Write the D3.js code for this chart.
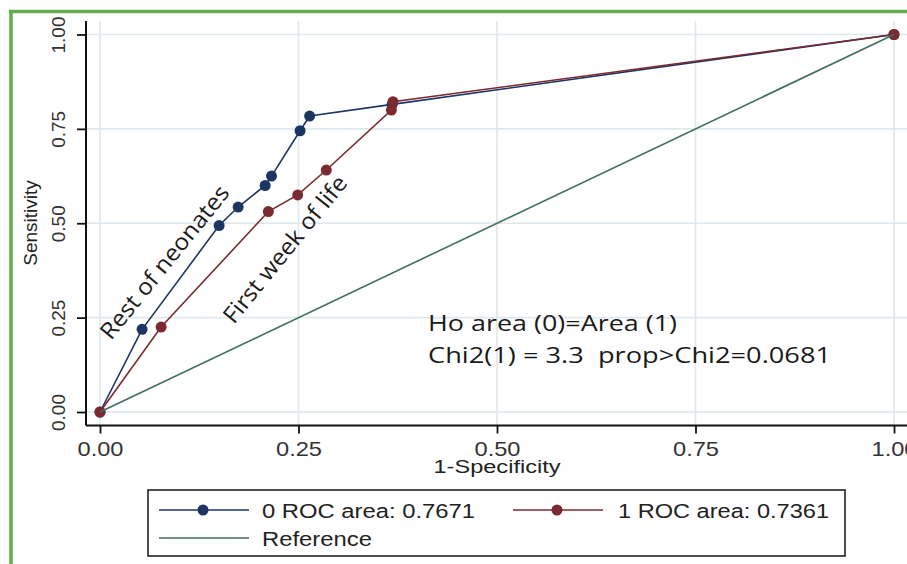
<!DOCTYPE html>
<html>
<head>
<meta charset="utf-8">
<script src="https://cdn.jsdelivr.net/npm/d3@7"></script>
<style>
  body { margin: 0; background: #fff; }
  svg { display: block; }
</style>
</head>
<body>
<svg width="907" height="564"></svg>
<script>
// ROC curves
var fpr0 = [0, 0.053, 0.150, 0.174, 0.208, 0.216, 0.252, 0.264, 0.368, 1];
var sens0 = [0, 0.219, 0.494, 0.543, 0.600, 0.625, 0.745, 0.784, 0.815, 1];
var fpr1 = [0, 0.077, 0.212, 0.249, 0.285, 0.367, 0.369, 1];
var sens1 = [0, 0.225, 0.531, 0.575, 0.641, 0.800, 0.822, 1];
var refLine = [0, 1];
var tickValues = [0, 0.25, 0.5, 0.75, 1];
var legendLabels = ["0 ROC area: 0.7671", "1 ROC area: 0.7361", "Reference"];
var noteLines = ["Ho area (0)=Area (1)", "Chi2(1) = 3.3  prop>Chi2=0.0681"];
var curveLabels = ["Rest of neonates", "First week of life"];

var navy = "#1d3563", maroon = "#7b2a30", green = "#3f6f5a";
var sansFont = "'Liberation Sans', Arial, sans-serif";
var openFont = "'Open Sans', 'Noto Sans', sans-serif";

var svg = d3.select("svg");

var x = d3.scaleLinear().domain([0, 1]).range([100, 894]);
var y = d3.scaleLinear().domain([0, 1]).range([412, 34.5]);
var plotTop = 21, plotLeft = 86, plotBottom = 425.5, plotRight = 907;

// stretch text to the width measured in the picture
function fit(sel, w) {
  sel.attr("textLength", w).attr("lengthAdjust", "spacingAndGlyphs");
}

// gridlines
svg.append("g").selectAll("line.gx")
  .data(tickValues).enter().append("line")
  .attr("x1", function(d) { return x(d); }).attr("x2", function(d) { return x(d); })
  .attr("y1", plotTop).attr("y2", plotBottom)
  .attr("stroke", "#dfe8ed").attr("stroke-width", 1.6);
svg.append("g").selectAll("line.gy")
  .data(tickValues).enter().append("line")
  .attr("y1", function(d) { return y(d); }).attr("y2", function(d) { return y(d); })
  .attr("x1", plotLeft).attr("x2", plotRight)
  .attr("stroke", "#dfe8ed").attr("stroke-width", 1.6);

// axes
var xAxis = svg.append("g")
  .attr("transform", "translate(0," + plotBottom + ")")
  .call(d3.axisBottom(x).tickValues(tickValues).tickFormat(d3.format(".2f")).tickSize(8).tickSizeOuter(0));
xAxis.select(".domain").attr("d", "M" + plotLeft + ",0H" + plotRight)
  .attr("stroke", "#111").attr("stroke-width", 2);
xAxis.selectAll(".tick line").attr("stroke", "#111").attr("stroke-width", 1.8);
xAxis.selectAll(".tick text")
  .attr("y", 30).attr("dy", 0)
  .style("font-family", sansFont).style("font-size", "21px").attr("fill", "#333")
  .each(function() { fit(d3.select(this), 46); });

var yAxis = svg.append("g")
  .attr("transform", "translate(" + plotLeft + ",0)")
  .call(d3.axisLeft(y).tickValues(tickValues).tickFormat(d3.format(".2f")).tickSize(9).tickSizeOuter(0));
yAxis.select(".domain").attr("d", "M0," + plotTop + "V" + plotBottom)
  .attr("stroke", "#111").attr("stroke-width", 2);
yAxis.selectAll(".tick line").attr("stroke", "#111").attr("stroke-width", 1.8);
yAxis.selectAll(".tick text")
  .attr("x", 0).attr("dy", 0)
  .attr("transform", "translate(-21,0) rotate(-90)")
  .attr("text-anchor", "middle")
  .style("font-family", sansFont).style("font-size", "19px").attr("fill", "#333");

// axis titles
svg.append("text").attr("x", 497).attr("y", 473)
  .attr("text-anchor", "middle")
  .style("font-family", sansFont).style("font-size", "18px").attr("fill", "#222")
  .text("1-Specificity").call(fit, 127);
svg.append("text")
  .attr("transform", "translate(37,223) rotate(-90)")
  .attr("text-anchor", "middle")
  .style("font-family", sansFont).style("font-size", "19px").attr("fill", "#222")
  .text("Sensitivity");

// curves
var line = d3.line().x(function(d) { return x(d[0]); }).y(function(d) { return y(d[1]); });
function drawCurve(fpr, sens, color) {
  var pts = fpr.map(function(v, i) { return [v, sens[i]]; });
  svg.append("path").datum(pts)
    .attr("d", line).attr("fill", "none")
    .attr("stroke", color).attr("stroke-width", 1.6);
  svg.append("g").selectAll("circle")
    .data(pts).enter().append("circle")
    .attr("cx", function(d) { return x(d[0]); })
    .attr("cy", function(d) { return y(d[1]); })
    .attr("r", 5.5).attr("fill", color);
}
drawCurve(fpr0, sens0, navy);
drawCurve(fpr1, sens1, maroon);

svg.append("path").datum(refLine.map(function(v) { return [v, v]; }))
  .attr("d", line).attr("fill", "none")
  .attr("stroke", green).attr("stroke-width", 1.6);

// curve labels
svg.append("text")
  .attr("transform", "translate(111,341) rotate(-51)")
  .style("font-family", openFont).style("font-size", "23px").attr("fill", "#1a1a1a")
  .text(curveLabels[0]).call(fit, 190);
svg.append("text")
  .attr("transform", "translate(234,325) rotate(-51)")
  .style("font-family", openFont).style("font-size", "23px").attr("fill", "#1a1a1a")
  .text(curveLabels[1]).call(fit, 182);

// test note
svg.append("text").attr("x", 428).attr("y", 331)
  .style("font-family", openFont).style("font-size", "22px").attr("fill", "#1a1a1a")
  .text(noteLines[0]).call(fit, 249);
svg.append("text").attr("x", 428).attr("y", 363)
  .style("font-family", openFont).style("font-size", "22px").attr("fill", "#1a1a1a")
  .style("white-space", "pre")
  .text(noteLines[1]).call(fit, 403);

// legend
var legend = svg.append("g");
legend.append("rect").attr("x", 148).attr("y", 490).attr("width", 697).attr("height", 66)
  .attr("fill", "#fff").attr("stroke", "#222").attr("stroke-width", 1.6);
var legendItems = [
  {label: legendLabels[0], color: navy, dot: true, lx: 159, ly: 510, tx: 262, w: 213},
  {label: legendLabels[1], color: maroon, dot: true, lx: 513, ly: 510, tx: 618, w: 211},
  {label: legendLabels[2], color: green, dot: false, lx: 159, ly: 538, tx: 262, w: 110}
];
legendItems.forEach(function(it) {
  legend.append("line").attr("x1", it.lx).attr("x2", it.lx + 90)
    .attr("y1", it.ly).attr("y2", it.ly)
    .attr("stroke", it.color).attr("stroke-width", 1.6);
  if (it.dot) {
    legend.append("circle").attr("cx", it.lx + 44).attr("cy", it.ly).attr("r", 5.5).attr("fill", it.color);
  }
  legend.append("text").attr("x", it.tx).attr("y", it.ly + 7.5)
    .style("font-family", sansFont).style("font-size", "20px").attr("fill", "#222")
    .text(it.label).call(fit, it.w);
});

// green frame
svg.append("line").attr("x1", 11).attr("x2", 11).attr("y1", 10).attr("y2", 564)
  .attr("stroke", "#5fae48").attr("stroke-width", 3.5);
svg.append("line").attr("x1", 9).attr("x2", 907).attr("y1", 11.5).attr("y2", 11.5)
  .attr("stroke", "#5fae48").attr("stroke-width", 3.5);
</script>
</body>
</html>
